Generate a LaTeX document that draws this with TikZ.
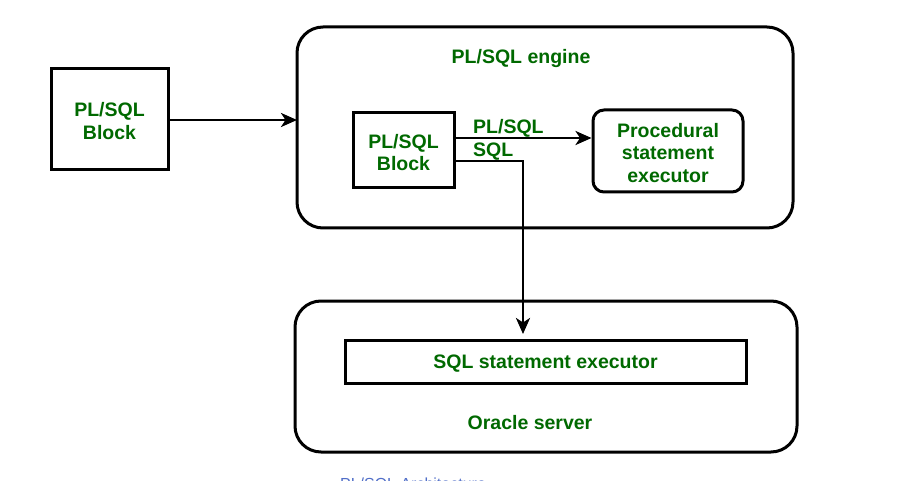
\documentclass[tikz,border=0pt]{standalone}
\usepackage{fontspec}
\setmainfont{Liberation Sans}
\usetikzlibrary{arrows.meta}
\definecolor{txtgreen}{RGB}{0,105,0}
\definecolor{capblue}{RGB}{80,110,200}
\tikzset{
  lbl/.style={text=txtgreen, font=\fontsize{19.5}{22.5}\selectfont\bfseries, align=center, inner sep=0pt, yshift=-2pt},
  box/.style={draw, line width=3pt},
  conn/.style={line width=2.8pt, -{Stealth[length=16pt,width=14pt,inset=4.5pt]}},
}
\begin{document}
\begin{tikzpicture}[x=1pt,y=-1pt]
\useasboundingbox (0,0) rectangle (897,481);
\clip (0,0) rectangle (897,481);
\fill[white] (0,0) rectangle (897,481);
% outer containers
\draw[box, rounded corners=26pt] (297,27) rectangle (793,228);
\coordinate (engL) at (297,120);
\draw[box, rounded corners=26pt] (295,301) rectangle (797,452);
\coordinate (oraT) at (523,334);
% nodes
\node[box, minimum width=117pt, minimum height=101pt, inner sep=0pt] (blk1) at (109.5,119) {};
\node[lbl] at (blk1) {PL/SQL\\Block};
\node[box, minimum width=101pt, minimum height=75pt, inner sep=0pt] (blk2) at (403.5,150.5) {};
\node[lbl] at (blk2) {PL/SQL\\Block};
\node[box, rounded corners=11pt, minimum width=150pt, minimum height=82pt, inner sep=0pt] (proc) at (668,151) {};
\node[lbl] at (proc) {Procedural\\statement\\executor};
\node[box, minimum width=401pt, minimum height=43pt, inner sep=0pt] (sqlx) at (545.5,362) {};
\node[lbl] at (sqlx) {SQL statement executor};
\node[lbl] (engt) at (521,57) {PL/SQL engine};
\node[lbl] (orat) at (530,421) {Oracle server};
% connectors
\draw[conn] (blk1.east |- 0,120) -- (engL);
\draw[conn] (blk2.east |- 0,138) -- (proc.west |- 0,138);
\node[lbl, anchor=base west] (lplsql) at (473,132) {PL/SQL};
\coordinate (bend) at (523,161);
\draw[conn] (blk2.east |- 0,161) -- (bend) -- (oraT);
\node[lbl, anchor=base west] (lsql) at (473,154.5) {SQL};
% caption (cut off)
\node[text=capblue, font=\fontsize{16}{19}\selectfont, anchor=base, inner sep=0pt] (cap) at (413,489) {PL/SQL Architecture};
\end{tikzpicture}
\end{document}
